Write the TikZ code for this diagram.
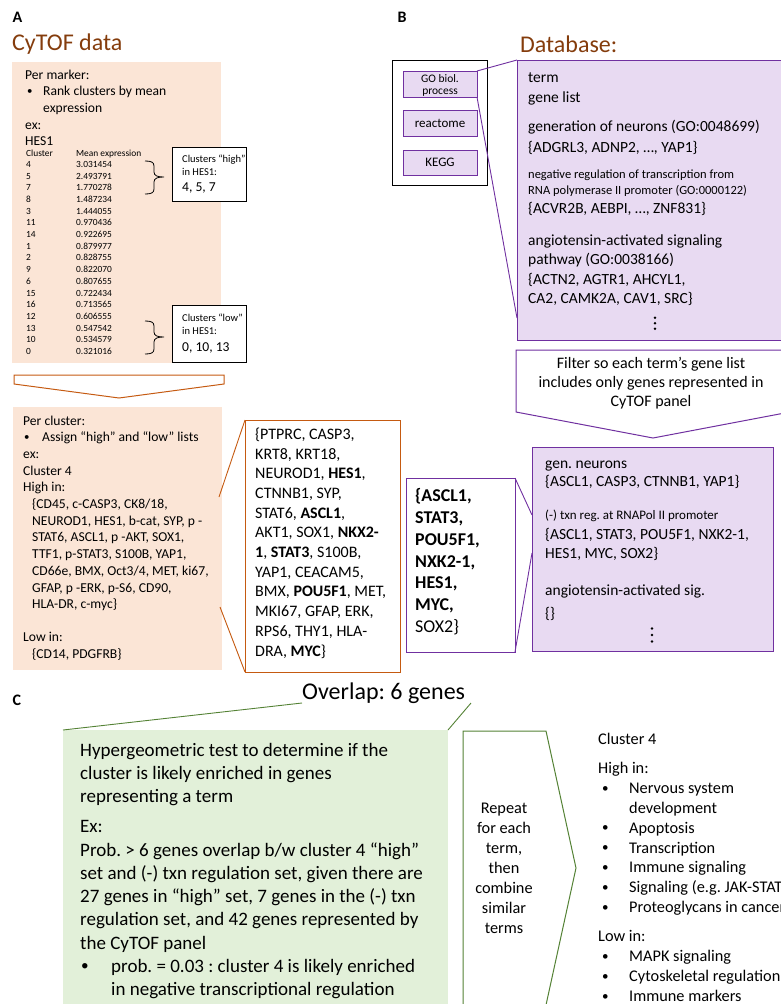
\documentclass[tikz,border=0pt]{standalone}
\usepackage{fontspec}
\setmainfont{Carlito}
\usetikzlibrary{calc}
\frenchspacing

\definecolor{peach}{HTML}{FBE5D6}
\definecolor{orangeline}{HTML}{C55A11}
\definecolor{titlebrown}{HTML}{843C0C}
\definecolor{lav}{HTML}{E8DAF2}
\definecolor{purp}{HTML}{7030A0}
\definecolor{mint}{HTML}{E2F0D9}
\definecolor{greenline}{HTML}{548235}

% font sizes
\newcommand\ftA{\fontsize{13.6}{16.7}\selectfont}
\newcommand\ftT{\fontsize{9.4}{11.7}\selectfont}
\newcommand\ftS{\fontsize{10.5}{13}\selectfont}
\newcommand\ftG{\fontsize{16}{19.7}\selectfont}
\newcommand\ftO{\fontsize{18}{21.8}\bfseries\selectfont}
\newcommand\ftD{\fontsize{15.5}{19.5}\selectfont}
\newcommand\ftDs{\fontsize{12.5}{16}\selectfont}
\newcommand\ftF{\fontsize{15.5}{19}\selectfont}
\newcommand\ftFs{\fontsize{13}{16}\selectfont}
\newcommand\ftP{\fontsize{16}{19.2}\selectfont}
\newcommand\ftGr{\fontsize{19}{23.3}\selectfont}
\newcommand\ftR{\fontsize{16.3}{20}\selectfont}
\newcommand\ftH{\fontsize{24}{28}\selectfont}
\newcommand\ftL{\fontsize{16}{18}\bfseries\selectfont}
\newcommand\ftGo{\fontsize{11.5}{12}\selectfont}
\newcommand\ftGoB{\fontsize{13}{15}\selectfont}
% list bullet, a little smaller than the text around it
\newcommand\blt{\raisebox{0.08em}{\scalebox{0.8}{•}}}

% a column of text lines: [anchor]{name}{x}{first baseline}{line step}{font}{lines}
\newcommand\textlines[7][base west]{%
  \foreach \s [count=\k] in {#7} {%
    \node[inner sep=0, anchor=#1, font=#6] (#2\k) at (#3,{#4+(\k-1)*#5}) {\s};
  }%
}

\begin{document}
\begin{tikzpicture}[x=1pt, y=-1pt,
  txt/.style={inner sep=0, anchor=base west},
  box/.style={anchor=north west, inner sep=0, outer sep=0},
  peachbox/.style={box, fill=peach},
  lavbox/.style={box, fill=lav, draw=purp, line width=1},
  orangelink/.style={draw=orangeline, line width=0.9},
  purplelink/.style={draw=purp, line width=0.9},
  greenlink/.style={draw=greenline, line width=0.9},
  dot/.style={fill=black, draw=none}]
\useasboundingbox (0,0) rectangle (781,1004);
\clip (0,0) rectangle (781,1004);

% ---------------- panel A ----------------
\node[txt, font=\ftL] (labA) at (12.5,22.5) {A};
\node[txt, font=\ftH, text=titlebrown] (cytof) at (12,50) {CyTOF data};

\node[peachbox, minimum width=209, minimum height=301] (markerbox) at (12,62) {};
\node[txt, font=\ftA] (mk1) at (25,79) {Per marker:};
\node[txt, font=\ftA] (mk2b) at (27,95.7) {\blt};
\node[txt, font=\ftA] (mk2) at (43,95.7) {Rank clusters by mean};
\node[txt, font=\ftA] (mk3) at (43,112.4) {expression};
\node[txt, font=\ftA] (mk4) at (25,129.1) {ex:};
\node[txt, font=\ftA] (mk5) at (25,145.8) {HES1};

\node[txt, font=\ftT] (thc) at (26,156) {Cluster};
\node[txt, font=\ftT] (thm) at (76,156) {Mean expression};
\foreach \c/\m [count=\k from 0] in {4/3.031454, 5/2.493791, 7/1.770278,
    8/1.487234, 3/1.444055, 11/0.970436, 14/0.922695, 1/0.879977,
    2/0.828755, 9/0.822070, 6/0.807655, 15/0.722434, 16/0.713565,
    12/0.606555, 13/0.547542, 10/0.534579, 0/0.321016} {
  \node[txt, font=\ftT] (tc\k) at (26,{167.3+\k*11.7}) {\c};
  \node[txt, font=\ftT] (tm\k) at (76,{167.3+\k*11.7}) {\m};
}

% braces grouping the top and bottom clusters
\foreach \yy/\nm in {161/hibrace, 321/lobrace} {
  \draw[line width=0.8] (145,\yy) .. controls (151,\yy) and (154,\yy+1) .. (154,\yy+5)
    -- (154,\yy+11) .. controls (154,\yy+15) and (158,\yy+16) .. (164,\yy+16)
    .. controls (158,\yy+16) and (154,\yy+17) .. (154,\yy+21)
    -- (154,\yy+28) .. controls (154,\yy+32) and (151,\yy+33) .. (145,\yy+33);
}

\node[box, draw=black, line width=0.8, fill=white, minimum width=74, minimum height=54] (highbox) at (172,147) {};
\node[txt, font=\ftS] (hi1) at (182,162) {Clusters “high”};
\node[txt, font=\ftS] (hi2) at (182,175) {in HES1:};
\node[txt, font=\ftA] (hi3) at (182,191.6) {4, 5, 7};

\node[box, draw=black, line width=0.8, fill=white, minimum width=74, minimum height=57] (lowbox) at (172,305) {};
\node[txt, font=\ftS] (lo1) at (182,321) {Clusters “low”};
\node[txt, font=\ftS] (lo2) at (182,334) {in HES1:};
\node[txt, font=\ftA] (lo3) at (182,351) {0, 10, 13};

% down arrow
\draw[orangeline, line width=1, fill=white] (14,375) -- (224,375) -- (224,384) -- (119,398) -- (14,384) -- cycle;

% connectors from the cluster lists to the gene list
\coordinate (hiTop) at (219,497);
\coordinate (hiBot) at (220,607);

\node[peachbox, minimum width=209, minimum height=263] (clusterbox) at (13,407) {};
\node[txt, font=\ftA] (pc1) at (23,425) {Per cluster:};
\node[txt, font=\ftA] (pc2b) at (24,441.7) {\blt};
\node[txt, font=\ftA] (pc2) at (42,441.7) {Assign “high” and “low” lists};
\textlines{pc}{23}{458.4}{16.7}{\ftA}{ex:, Cluster 4, High in:}
\textlines{hl}{32}{508.5}{16.7}{\ftA}{{\{CD45, c-CASP3, CK8/18,},
  {NEUROD1, HES1, b-cat, SYP, p -},
  {STAT6, ASCL1, p -AKT, SOX1,},
  {TTF1, p-STAT3, S100B, YAP1,},
  {CD66e, BMX, Oct3/4, MET, ki67,},
  {GFAP, p -ERK, p-S6, CD90,},
  {HLA-DR, c-myc\}}}
\node[txt, font=\ftA] (lowin) at (23,641.9) {Low in:};
\node[txt, font=\ftA] (lowlist) at (32,658.6) {\{CD14, PDGFRB\}};

\node[box, draw=orangeline, line width=1, fill=white, minimum width=155, minimum height=252] (genebox) at (245,420) {};
\draw[orangelink] (hiTop) -- (genebox.north west);
\draw[orangelink] (hiBot) -- (genebox.south west);
\textlines{gene}{255}{439.3}{19.7}{\ftG}{{\{PTPRC, CASP3,},
  {KRT8, KRT18,},
  {NEUROD1, \textbf{HES1},},
  {CTNNB1, SYP,},
  {STAT6, \textbf{ASCL1},},
  {AKT1, SOX1, \textbf{NKX2-}},
  {\textbf{1}, \textbf{STAT3}, S100B,},
  {YAP1, CEACAM5,},
  {BMX, \textbf{POU5F1}, MET,},
  {MKI67, GFAP, ERK,},
  {RPS6, THY1, HLA-},
  {DRA, \textbf{MYC}\}}}

% ---------------- panel B ----------------
\node[txt, font=\ftL] (labB) at (397.5,22.5) {B};
\node[txt, font=\ftH, text=titlebrown] (dbtitle) at (520,52) {Database:};

\node[box, draw=black, line width=1, fill=white, minimum width=95, minimum height=125] (dbframe) at (392,60) {};
\node[lavbox, minimum width=74, minimum height=26] (gobox) at (403,71) {};
\node[lavbox, minimum width=74, minimum height=26] (reactbox) at (403,110) {};
\node[lavbox, minimum width=74, minimum height=25] (keggbox) at (403,150) {};
\node[font=\ftGo, align=center, inner sep=0] (golab) at (440,85) {GO biol.\\process};
\node[font=\ftGoB, inner sep=0] (reactlab) at (reactbox.center) {reactome};
\node[font=\ftGoB, inner sep=0] (kegglab) at (keggbox.center) {KEGG};

\coordinate (dbin) at (517,318);
\draw[purplelink] (gobox.north east) -- (517,60);
\draw[purplelink] (gobox.south east) -- (dbin);

\node[lavbox, minimum width=290, minimum height=280] (dbbox) at (517,60) {};
\textlines{dbh}{528}{82}{20}{\ftD}{term, gene list}
\textlines{dbn}{528}{131.5}{20.5}{\ftD}{{generation of neurons (GO:0048699)}, {\{ADGRL3, ADNP2, …, YAP1\}}}
\textlines{dbt}{528}{178.3}{16.4}{\ftDs}{{negative regulation of transcription from}, {RNA polymerase II promoter (GO:0000122)}}
\node[txt, font=\ftD] (dbt3) at (528,213.3) {\{ACVR2B, AEBPI, …, ZNF831\}};
\textlines{dba}{528}{245}{19.5}{\ftD}{{angiotensin-activated signaling},
  {pathway (GO:0038166)}, {\{ACTN2, AGTR1, AHCYL1,}, {CA2, CAMK2A, CAV1, SRC\}}}
\foreach \yy in {317.7, 323.2, 328.7} \fill[dot] (655,\yy) circle (1.4);

% filter arrow
\draw[purp, line width=1, fill=white] (516,350) -- (790,350) -- (790,412) -- (653,438) -- (516,412) -- cycle;
\textlines[base]{filt}{651}{368.5}{19.2}{\ftP}{{Filter so each term’s gene list},
  {includes only genes represented in}, {CyTOF panel}}

% overlap of the two lists
\node[box, draw=purp, line width=1, fill=white, minimum width=109, minimum height=174] (overlapbox) at (406,478) {};
\textlines{ov}{415}{501.7}{21.8}{\ftO}{{\{ASCL1,}, {STAT3,}, {POU5F1,}, {NXK2-1,}, {HES1,}, {MYC,}, {\mdseries SOX2\}}}

\coordinate (txnTop) at (532,515);
\coordinate (txnBot) at (532,553);
\draw[purplelink] (overlapbox.north east) -- (txnTop);
\draw[purplelink] (overlapbox.south east) -- (txnBot);

\node[lavbox, minimum width=241, minimum height=204] (filtbox) at (532,447) {};
\textlines{fn}{545}{468.3}{18.4}{\ftF}{gen. neurons, {\{ASCL1, CASP3, CTNNB1, YAP1\}}}
\node[txt, font=\ftFs] (ft1) at (545,519.3) {(-) txn reg. at RNAPol II promoter};
\textlines{ft}{545}{539.3}{19}{\ftF}{{\{ASCL1, STAT3, POU5F1, NXK2-1,}, {HES1, MYC, SOX2\}}}
\node[txt, font=\ftF] (fa1) at (545,595) {angiotensin-activated sig.};
\node[txt, font=\ftF] (fa2) at (545,618.3) {\{\}};
\foreach \yy in {628.5, 635, 641.5} \fill[dot] (652,\yy) circle (1.4);

% ---------------- panel C ----------------
\node[txt, font=\ftL] (labC) at (12.5,705.5) {C};
\node[txt, font=\ftH] (overlaptitle) at (302,699.3) {Overlap: 6 genes};
\coordinate (olL) at (302,703);
\coordinate (olR) at (471,703);

\node[box, fill=mint, minimum width=385, minimum height=290] (greenbox) at (63,730) {};
\draw[greenlink] (olL) -- (greenbox.north west);
\draw[greenlink] (olR) -- (greenbox.north east);

\textlines{hg}{80}{756}{23.3}{\ftGr}{{Hypergeometric test to determine if the},
  {cluster is likely enriched in genes}, {representing a term}}
\textlines{ex}{80}{832.7}{23.3}{\ftGr}{Ex:,
  {Prob. > 6 genes overlap b/w cluster 4 “high”},
  {set and (-) txn regulation set, given there are},
  {27 genes in “high” set, 7 genes in the (-) txn},
  {regulation set, and 42 genes represented by},
  {the CyTOF panel}}
\node[txt, font=\ftGr] (pb) at (81,972.5) {\blt};
\textlines{pr}{111}{972.5}{23.3}{\ftGr}{{prob. = 0.03 : cluster 4 is likely enriched},
  {in negative transcriptional regulation}}

% repeat arrow
\draw[greenline, line width=1, fill=white] (463,731) -- (546,731) -- (576,868) -- (546,1005) -- (463,1005) -- cycle;
\textlines[base]{rep}{504}{813.3}{20}{\ftR}{Repeat, for each, {term,}, then, combine, similar, terms}

% summary for the cluster
\node[txt, font=\ftR] (c4) at (598,744) {Cluster 4};
\node[txt, font=\ftR] (c4hi) at (598,773.3) {High in:};
\textlines{hiT}{629}{793.3}{19.9}{\ftR}{{Nervous system}, development, Apoptosis,
  Transcription, {Immune signaling}, {Signaling (e.g. JAK-STAT)}, {Proteoglycans in cancer}}
\foreach \k in {0,2,3,4,5,6} \node[txt, font=\ftR] (hiB\k) at (602,{793.3+\k*19.9}) {\blt};
\node[txt, font=\ftR] (c4lo) at (598,941.7) {Low in:};
\textlines{loT}{629}{961.7}{19.8}{\ftR}{{MAPK signaling}, {Cytoskeletal regulation}, {Immune markers}}
\foreach \k in {0,1,2} \node[txt, font=\ftR] (loB\k) at (602,{961.7+\k*19.8}) {\blt};

\end{tikzpicture}
\end{document}
